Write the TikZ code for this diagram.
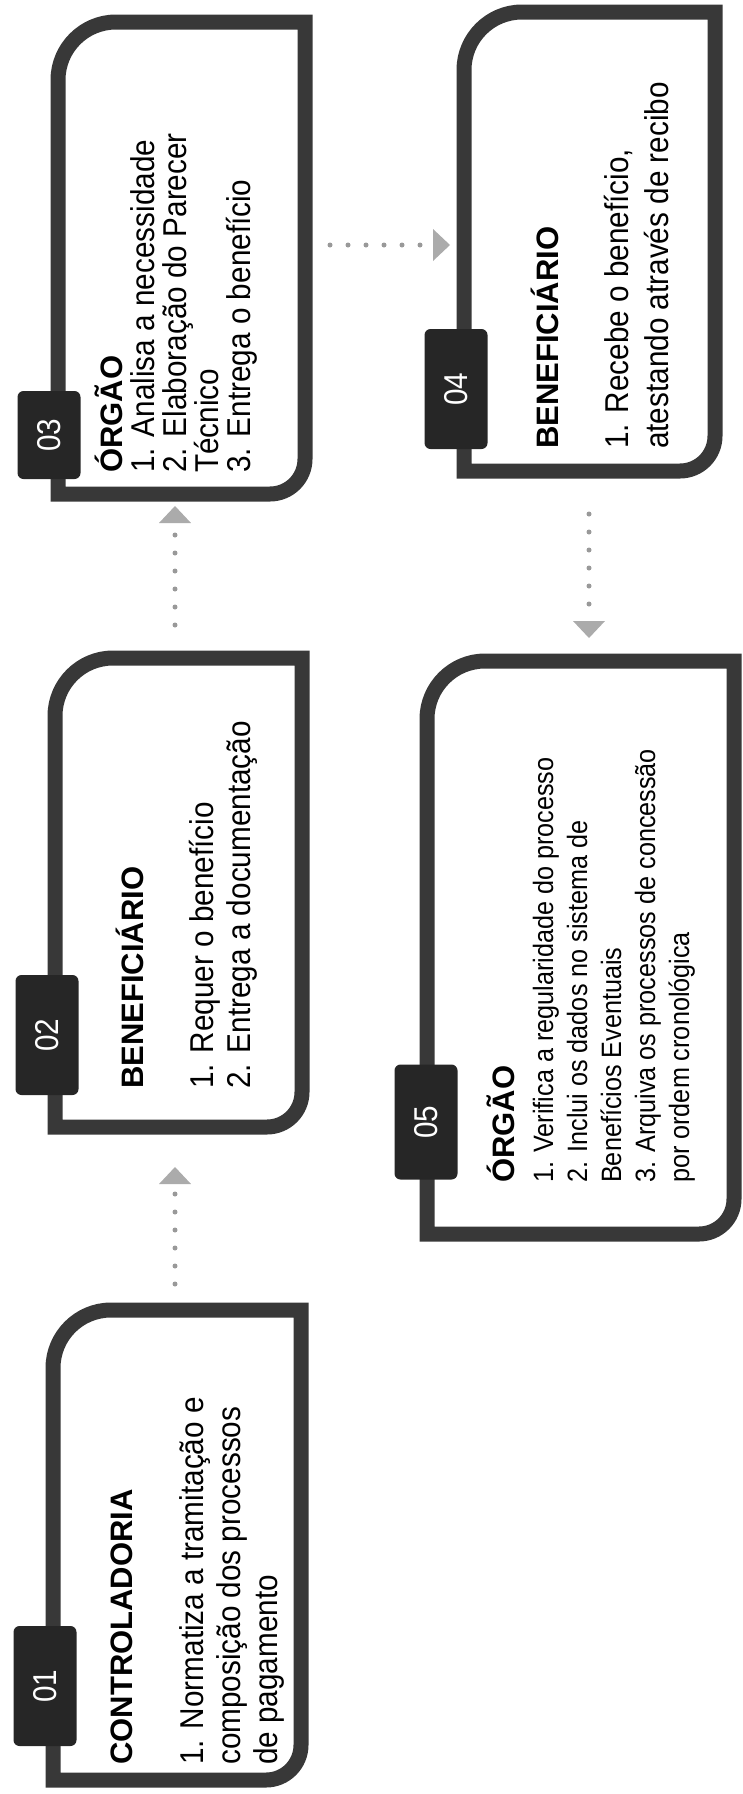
\documentclass[tikz,border=0pt]{standalone}
\usepackage{fontspec}
\setmainfont{Liberation Sans}
\newfontfamily\estreita[FakeStretch=0.9]{Liberation Sans}
\usetikzlibrary{arrows.meta}

\begin{document}
\begin{tikzpicture}[x=1pt,y=-1pt,
	caixa/.style={draw=black!78, line width=15pt},
	aba/.style={fill=black!85, rounded corners=6pt, rotate=90, minimum width=120pt, minimum height=63pt, inner sep=0pt, text=white, font=\estreita\fontsize{33}{33}\selectfont},
	titulo/.style={rotate=90, anchor=base west, inner sep=0pt, font=\bfseries\fontsize{31}{31}\selectfont},
	linha/.style={rotate=90, anchor=base west, inner sep=0pt, font=\estreita\fontsize{33}{33}\selectfont},
	menor/.style={font=\estreita\fontsize{28}{28}\selectfont},
	seta/.style={draw=black!40, line width=5pt, line cap=round, dash pattern=on 0pt off 18pt, -{Triangle[width=32pt,length=17pt,line width=0pt,color=black!33]}}
]

\useasboundingbox (0,0) rectangle (742,1794);

% caixas: x esquerda / y topo / x direita / y base
\foreach \a/\b/\c/\d in {53/1310/301/1780, 55/658/302/1127, 58/22/305/494, 464/12/715/471, 427/661/734/1234}{
	\draw[caixa] (\a,\d) -- (\a,\b+58) arc[start angle=180, end angle=270, radius=58] -- (\c,\b) -- (\c,\d-35) arc[start angle=0, end angle=90, radius=35] -- cycle;
}

\node[aba] (aba1) at (45,1686) {01};
\node[aba] (aba2) at (47,1035) {02};
\node[aba, minimum width=88pt] (aba3) at (49,435) {03};
\node[aba] (aba4) at (456,389) {04};
\node[aba, minimum width=115pt] (aba5) at (426,1122) {05};

\node[titulo] (t1) at (132,1765) {CONTROLADORIA};
\node[linha] (t1a) at (203,1765) {1. Normatiza a tramitação e};
\node[linha] (t1b) at (240,1765) {composição dos processos};
\node[linha] (t1c) at (277,1765) {de pagamento};

\node[titulo] (t2) at (143,1089) {BENEFICIÁRIO};
\node[linha] (t2a) at (213,1089) {1. Requer o benefício};
\node[linha] (t2b) at (250,1089) {2. Entrega a documentação};

\node[titulo] (t3) at (122,473) {ÓRGÃO};
\node[linha] (t3a) at (154,473) {1. Analisa a necessidade};
\node[linha] (t3b) at (186,473) {2. Elaboração do Parecer};
\node[linha] (t3c) at (218,473) {Técnico};
\node[linha] (t3d) at (250,473) {3. Entrega o benefício};

\node[titulo] (t4) at (558,449) {BENEFICIÁRIO};
\node[linha] (t4a) at (628,449) {1. Recebe o benefício,};
\node[linha] (t4b) at (668,449) {atestando através de recibo};

\node[titulo] (t5) at (514,1183) {ÓRGÃO};
\node[linha, menor] (t5a) at (553,1183) {1. Verifica a regularidade do processo};
\node[linha, menor] (t5b) at (587,1183) {2. Inclui os dados no sistema de};
\node[linha, menor] (t5c) at (621,1183) {Benefícios Eventuais};
\node[linha, menor] (t5d) at (655,1183) {3. Arquiva os processos de concessão};
\node[linha, menor] (t5e) at (689,1183) {por ordem cronológica};

\coordinate (s12) at (175,1284);
\coordinate (e12) at (175,1167);
\coordinate (s23) at (175,625);
\coordinate (e23) at (175,506);
\coordinate (s34) at (330,245);
\coordinate (e34) at (450,245);
\coordinate (s45) at (589,514);
\coordinate (e45) at (589,638);

\draw[seta] (s12) -- (e12);
\draw[seta] (s23) -- (e23);
\draw[seta] (s34) -- (e34);
\draw[seta] (s45) -- (e45);

\end{tikzpicture}
\end{document}
